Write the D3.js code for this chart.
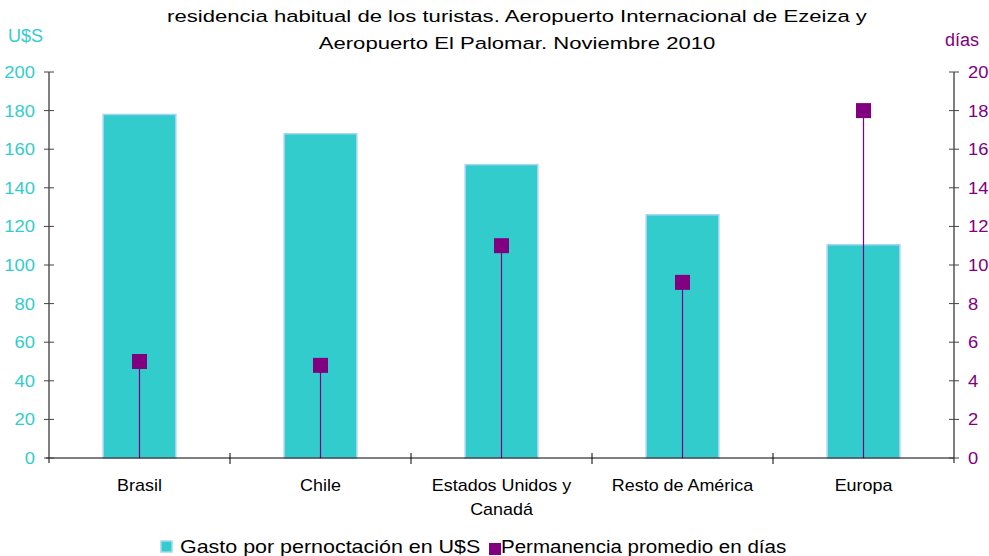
<!DOCTYPE html>
<html>
<head>
<meta charset="utf-8">
<script src="https://cdn.jsdelivr.net/npm/d3@7/dist/d3.min.js"></script>
<style>
  html, body { margin: 0; padding: 0; background: #fff; }
  svg { display: block; font-family: "Liberation Sans", Arial, sans-serif; }
</style>
</head>
<body>
<svg id="chart" width="989" height="556"></svg>
<script>
const categories = ["Brasil", "Chile", "Estados Unidos y Canadá", "Resto de América", "Europa"];
const categoryLines = [["Brasil"], ["Chile"], ["Estados Unidos y", "Canadá"], ["Resto de América"], ["Europa"]];
const gastoUSD = [178, 168, 152, 126, 110.5];
const permanenciaDias = [5.0, 4.8, 11.0, 9.1, 18.0];
const leftTicks = [0, 20, 40, 60, 80, 100, 120, 140, 160, 180, 200];
const rightTicks = [0, 2, 4, 6, 8, 10, 12, 14, 16, 18, 20];
const titleLines = [
  "residencia habitual de los turistas. Aeropuerto Internacional de Ezeiza y",
  "Aeropuerto El Palomar. Noviembre 2010"
];
const seriesNames = ["Gasto por pernoctación en U$S", "Permanencia promedio en días"];

const teal = "#33CCCC", tealStroke = "#A8D4F5", purple = "#800080";
const svg = d3.select("#chart");
const L = 49, R = 954, T = 72, B = 458;

// horizontally stretched text helper (reference glyphs are wide)
function stext(parent, px, py, str, size, sx, anchor, fill) {
  return parent.append("g").attr("transform", `translate(${px},${py}) scale(${sx},1)`)
    .append("text").attr("x", 0).attr("y", 0).attr("font-size", size)
    .attr("text-anchor", anchor).attr("fill", fill).text(str);
}

const x = d3.scaleBand().domain(categories).range([L, R]).paddingInner(0.59).paddingOuter(0.295);
const xb = d3.scaleBand().domain(categories).range([L, R]);
const yL = d3.scaleLinear().domain([0, 200]).range([B, T]);
const yR = d3.scaleLinear().domain([0, 20]).range([B, T]);

// bars
svg.append("g").selectAll("rect").data(categories).join("rect")
  .attr("x", d => x(d) + 0.75)
  .attr("y", (d, i) => yL(gastoUSD[i]))
  .attr("width", x.bandwidth() - 1.5)
  .attr("height", (d, i) => B - yL(gastoUSD[i]))
  .attr("fill", teal).attr("stroke", tealStroke).attr("stroke-width", 1.5);

// stems
svg.append("g").selectAll("line").data(categories).join("line")
  .attr("x1", d => xb(d) + xb.bandwidth() / 2).attr("x2", d => xb(d) + xb.bandwidth() / 2)
  .attr("y1", B).attr("y2", (d, i) => yR(permanenciaDias[i]))
  .attr("stroke", purple).attr("stroke-width", 1.2);

// squares
const sq = 15;
svg.append("g").selectAll("rect").data(categories).join("rect")
  .attr("x", d => xb(d) + xb.bandwidth() / 2 - sq / 2)
  .attr("y", (d, i) => yR(permanenciaDias[i]) - sq / 2)
  .attr("width", sq).attr("height", sq).attr("fill", purple);

// x axis
const xAxis = svg.append("g").attr("transform", `translate(0,${B})`);
xAxis.append("line").attr("x1", L - 3).attr("x2", R).attr("y1", 0).attr("y2", 0).attr("stroke", "#000");
const boundaries = categories.slice(1).map(d => xb(d));
xAxis.selectAll("line.t").data(boundaries).join("line").attr("class", "t")
  .attr("x1", d => d).attr("x2", d => d).attr("y1", -5).attr("y2", 6).attr("stroke", "#000");

const catG = svg.append("g");
categories.forEach((d, i) => {
  categoryLines[i].forEach((ln, k) => {
    stext(catG, xb(d) + xb.bandwidth() / 2, 491 + k * 24, ln, 16, 1.12, "middle", "#000");
  });
});

// left axis
const gl = svg.append("g");
gl.append("line").attr("x1", L).attr("x2", L).attr("y1", T).attr("y2", B + 5).attr("stroke", "#000");
gl.selectAll("line.t").data(leftTicks).join("line").attr("class", "t")
  .attr("x1", L - 5).attr("x2", L + 5).attr("y1", d => yL(d)).attr("y2", d => yL(d)).attr("stroke", "#444");
leftTicks.forEach(d => stext(gl, L - 14, yL(d) + 6, d, 17, 1.08, "end", teal));

// right axis
const gr = svg.append("g");
gr.append("line").attr("x1", R).attr("x2", R).attr("y1", T).attr("y2", B + 5).attr("stroke", "#000");
gr.selectAll("line.t").data(rightTicks).join("line").attr("class", "t")
  .attr("x1", R - 5).attr("x2", R + 5).attr("y1", d => yR(d)).attr("y2", d => yR(d)).attr("stroke", "#444");
rightTicks.forEach(d => stext(gr, R + 14, yR(d) + 6, d, 17, 1.08, "start", purple));

// axis titles
svg.append("text").attr("x", 8).attr("y", 42).attr("font-size", 18).attr("fill", teal).text("U$S");
svg.append("text").attr("x", 945).attr("y", 46).attr("font-size", 18).attr("fill", purple).text("días");

// title
const tg = svg.append("g");
titleLines.forEach((t, i) => stext(tg, 517, 22 + i * 27, t, 17, 1.3, "middle", "#000"));

// legend
const lg = svg.append("g");
lg.append("rect").attr("x", 161).attr("y", 541).attr("width", 11).attr("height", 11)
  .attr("fill", teal).attr("stroke", tealStroke).attr("stroke-width", 1.5);
stext(lg, 180, 553, seriesNames[0], 18.5, 1.16, "start", "#000");
lg.append("rect").attr("x", 489).attr("y", 543).attr("width", 12).attr("height", 12).attr("fill", purple);
stext(lg, 501, 553, seriesNames[1], 18.5, 1.11, "start", "#000");
</script>
</body>
</html>
